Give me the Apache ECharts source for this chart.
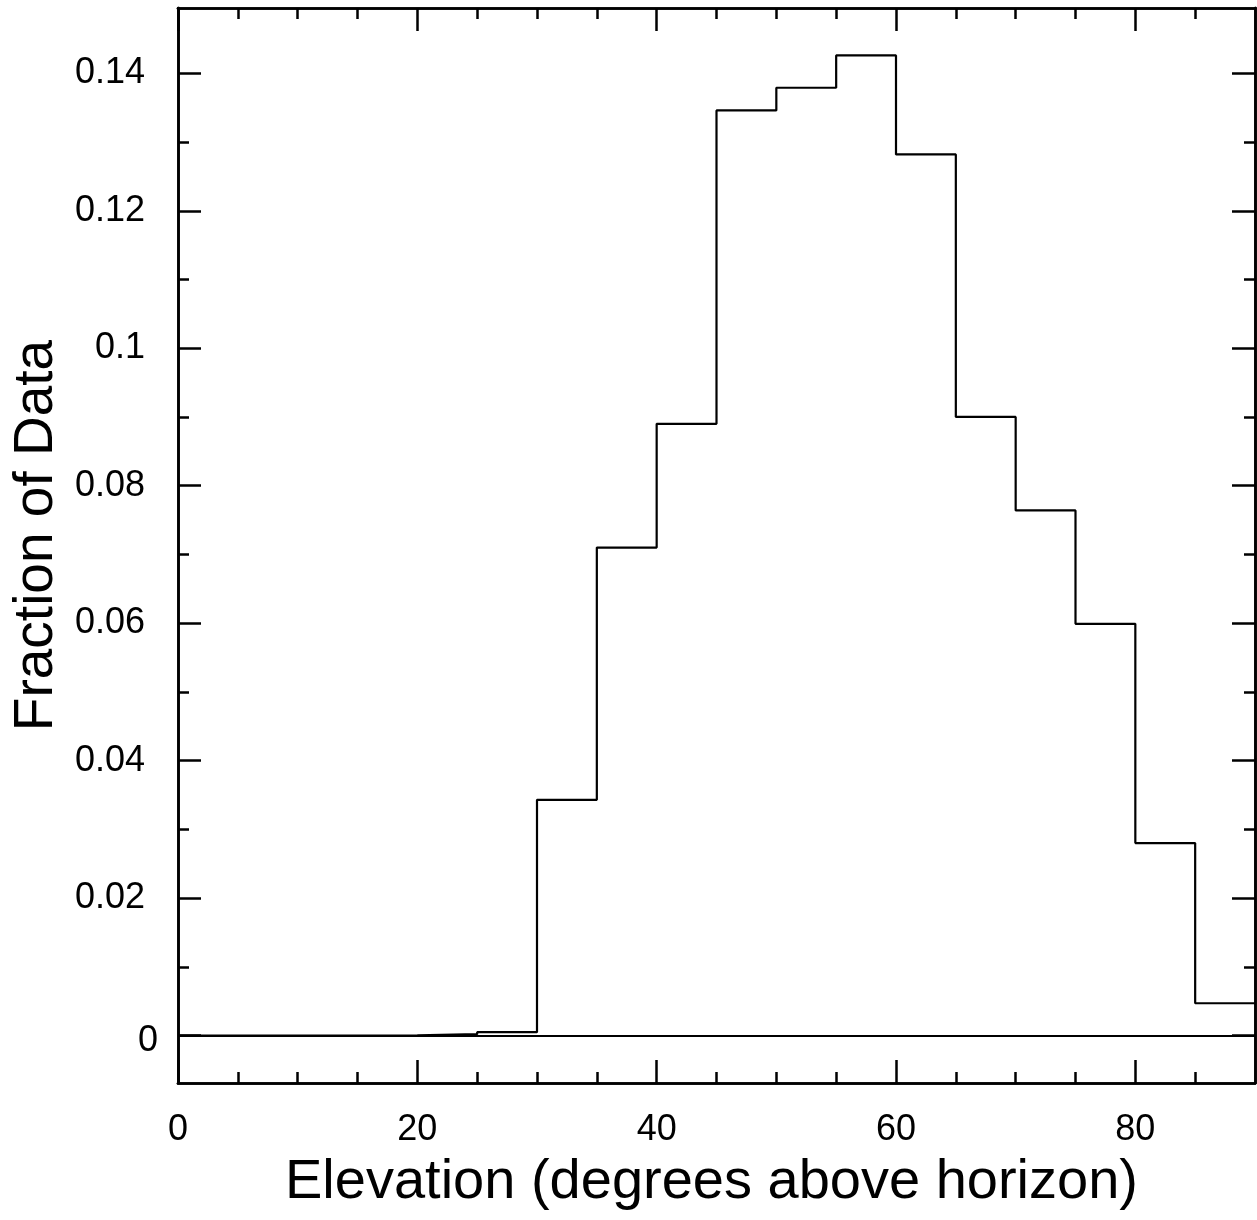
<!DOCTYPE html>
<html>
<head>
<meta charset="utf-8">
<script src="https://cdn.jsdelivr.net/npm/echarts@6/dist/echarts.min.js"></script>
<style>
html,body{margin:0;padding:0;background:#fff;}
#chart{width:1257px;height:1220px;}
</style>
</head>
<body>
<div id="chart"></div>
<script>
// Histogram bin left edges (degrees) and fraction of data per bin
var binStarts = [0, 5, 10, 15, 20, 25, 30, 35, 40, 45, 50, 55, 60, 65, 70, 75, 80, 85];
var binEnd = 90;
var fractions = [0, 0, 0, 0.00003, 0.0002, 0.0005, 0.0343, 0.0710, 0.0890, 0.1346, 0.1379, 0.1426, 0.1282, 0.0900, 0.0764, 0.0599, 0.0280, 0.0047];

var xMajorTicks = [0, 20, 40, 60, 80];
var xMinorTicks = [5, 10, 15, 25, 30, 35, 45, 50, 55, 65, 70, 75, 85];
var yMajorTicks = [0, 0.02, 0.04, 0.06, 0.08, 0.1, 0.12, 0.14];
var yMinorTicks = [0.01, 0.03, 0.05, 0.07, 0.09, 0.11, 0.13];

var xTitle = 'Elevation (degrees above horizon)';
var yTitle = 'Fraction of Data';

var stepData = binStarts.map(function (x, i) { return [x, fractions[i]]; });
stepData.push([binEnd, fractions[fractions.length - 1]]);

var FONT = "'Liberation Sans', Arial, Helvetica, sans-serif";
var XMIN = 0, XMAX = 90, YMIN = -0.0069, YMAX = 0.1495;
var lineStyle = { color: '#000', width: 2.6 };

function xAx(pos, ticks, len, opts) {
  var a = {
    type: 'value', position: pos, min: XMIN, max: XMAX,
    axisLine: { show: true, onZero: false, lineStyle: lineStyle },
    axisTick: { show: true, inside: true, length: len, customValues: ticks, lineStyle: { color: '#000', width: 2.5 } },
    axisLabel: { show: false },
    splitLine: { show: false }
  };
  return Object.assign(a, opts || {});
}
function yAx(pos, ticks, len, opts) {
  var a = {
    type: 'value', position: pos, min: YMIN, max: YMAX,
    axisLine: { show: true, onZero: false, lineStyle: lineStyle },
    axisTick: { show: true, inside: true, length: len, customValues: ticks, lineStyle: { color: '#000', width: 2.5 } },
    axisLabel: { show: false },
    splitLine: { show: false }
  };
  return Object.assign(a, opts || {});
}

var chart = echarts.init(document.getElementById('chart'), null, { renderer: 'canvas' });
chart.setOption({
  backgroundColor: '#fff',
  animation: false,
  grid: { left: 178, top: 8, width: 1077, height: 1075, containLabel: false, outerBoundsMode: 'none' },
  xAxis: [
    xAx('bottom', xMajorTicks, 23, {
      axisLabel: { show: true, customValues: xMajorTicks, fontSize: 36, fontFamily: FONT, color: '#000', margin: 29 },
      name: xTitle, nameLocation: 'middle', nameGap: 72,
      nameTextStyle: { fontSize: 56, fontFamily: FONT, color: '#000', padding: [0, 10, 0, 0] }
    }),
    xAx('bottom', xMinorTicks, 11),
    xAx('top', xMajorTicks, 23),
    xAx('top', xMinorTicks, 11)
  ],
  yAxis: [
    yAx('left', yMajorTicks, 23, {
      axisLabel: {
        show: true, customValues: yMajorTicks, fontSize: 36, fontFamily: FONT, color: '#000', margin: 20,
        formatter: function (v) {
          var s = String(+v.toFixed(4));
          return v === 0 ? '{z|' + s + '}' : '{n|' + s + '}';
        },
        rich: {
          n: { fontSize: 36, fontFamily: FONT, color: '#000', padding: [0, 13, 0, 0] },
          z: { fontSize: 36, fontFamily: FONT, color: '#000', padding: [12, 0, 0, 0] }
        }
      },
      name: yTitle, nameLocation: 'middle', nameGap: 110,
      nameTextStyle: { fontSize: 55, fontFamily: FONT, color: '#000', padding: [0, 0, 0, 20] }
    }),
    yAx('left', yMinorTicks, 11),
    yAx('right', yMajorTicks, 23),
    yAx('right', yMinorTicks, 11)
  ],
  series: [{
    type: 'line',
    xAxisIndex: 0, yAxisIndex: 0,
    step: 'end',
    data: stepData,
    showSymbol: false,
    symbol: 'none',
    lineStyle: { color: '#000', width: 2.2 },
    markLine: {
      silent: true, symbol: 'none', label: { show: false },
      lineStyle: { color: '#000', width: 2.2, type: 'solid' },
      data: [{ yAxis: 0 }]
    }
  }]
});
</script>
</body>
</html>
